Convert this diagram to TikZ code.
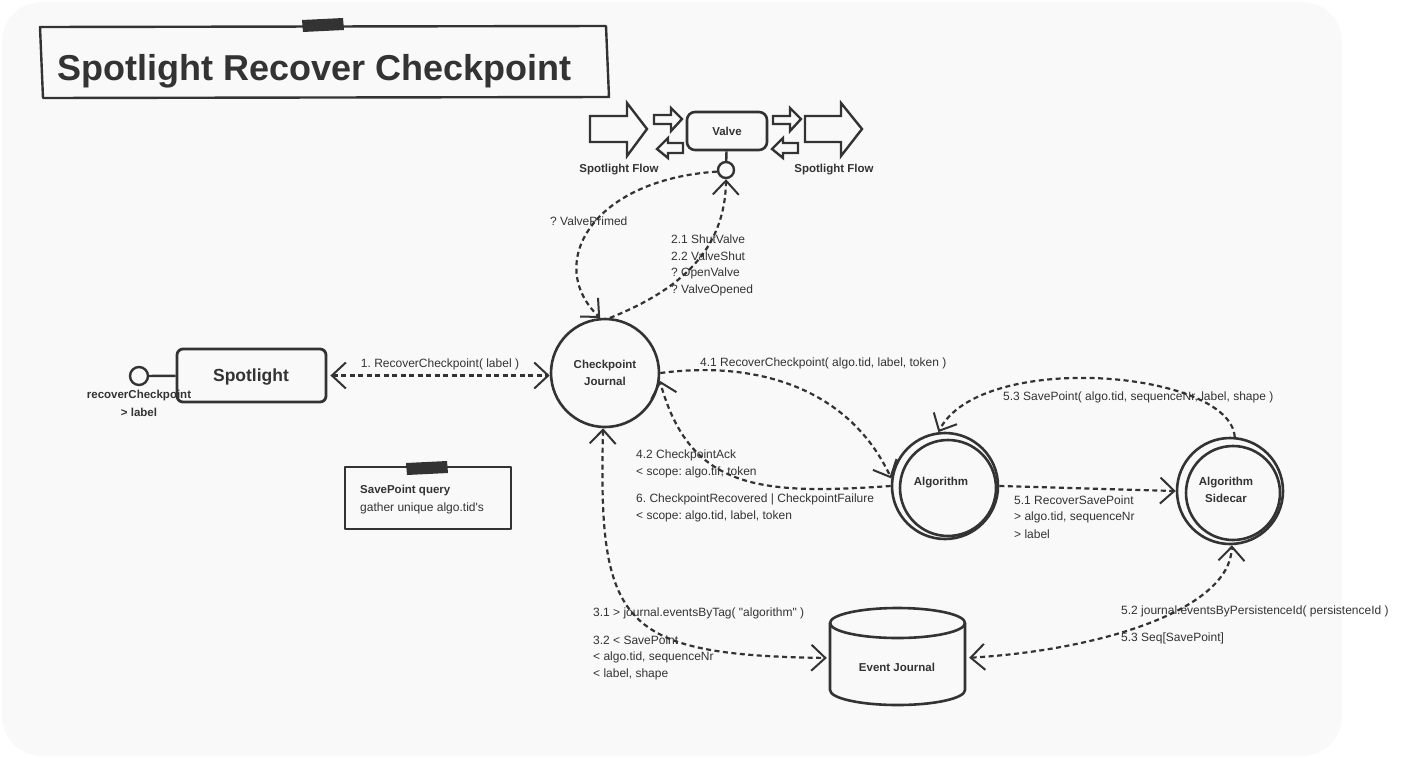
\documentclass[tikz,border=0pt]{standalone}
\usepackage{fontspec}
\setmainfont{Liberation Sans}
\newfontfamily\qf{Liberation Sans}
\usetikzlibrary{arrows.meta,calc}
\definecolor{ink}{HTML}{333333}
\definecolor{paper}{HTML}{F9F9F9}
\frenchspacing
\begin{document}
\begin{tikzpicture}[x=1pt,y=-1pt,
  vtip/.tip={Straight Barb[length=14pt,width=26pt,line width=2pt]},
  shp/.style={draw=ink, line width=2.6pt, line join=round},
  tf/.style={font=\fontsize{12}{14}\selectfont, text=ink},
  bf/.style={font=\fontsize{11.5}{17}\selectfont\bfseries, text=ink},
  lbl/.style={tf, anchor=west, inner sep=0pt},
  conn/.style={draw=ink, line width=2.2pt, dash pattern=on 5pt off 3.5pt},
  one/.style={conn, -vtip},
  two/.style={conn, vtip-vtip},
  circ/.style={shp, circle, inner sep=0pt, align=center, bf},
  lolli/.style={draw=ink, line width=2.4pt, circle, inner sep=0pt},
  blk/.style={draw=ink, line width=2.4pt, line join=miter}
]
\useasboundingbox (0,0) rectangle (1412,758);
\fill[paper, rounded corners=40pt] (2,2) rectangle (1342,756);

% title
\draw[shp, line width=2.4pt] (40,27) -- (606,26) -- (609,97) -- (43,98) -- cycle;
\fill[ink] (302,20) -- (343,18) -- (344,30) -- (303,32) -- cycle;
\node[anchor=base west, inner sep=0pt, text=ink, font=\fontsize{36}{40}\selectfont\bfseries] (title) at (57,80) {Spotlight Recover Checkpoint};

% valve and flow arrows
\node[shp, rounded corners=8pt, minimum width=80pt, minimum height=38pt, inner sep=0pt, bf] (valve) at (727,131) {Valve};
\node[lolli, minimum size=16pt] (vc) at (726,170) {};
\draw[shp, line width=2.4pt] (vc) -- (valve);
\draw[blk] (590,116) -- (627,116) -- (627,103) -- (647,129) -- (627,156) -- (627,142) -- (590,142) -- cycle;
\draw[blk] (654,115) -- (671,115) -- (671,108) -- (682,119) -- (671,131) -- (671,124) -- (654,124) -- cycle;
\draw[blk] (683,143) -- (668,143) -- (668,138) -- (657,149) -- (668,158) -- (668,153) -- (683,153) -- cycle;
\draw[blk] (773,116) -- (790,116) -- (790,108) -- (801,119) -- (790,131) -- (790,124) -- (773,124) -- cycle;
\draw[blk] (805,116) -- (841,116) -- (841,103) -- (862,129) -- (841,156) -- (841,142) -- (805,142) -- cycle;
\draw[blk] (798,143) -- (783,143) -- (783,138) -- (772,149) -- (783,158) -- (783,153) -- (798,153) -- cycle;
\node[bf, inner sep=0pt] (flowl) at (619,170) {Spotlight Flow};
\node[bf, inner sep=0pt] (flowr) at (834,170) {Spotlight Flow};

% spotlight
\node[shp, line width=2.8pt, rounded corners=6pt, minimum width=149pt, minimum height=53pt, inner sep=0pt] (sp) at (251.5,375.5) {};
\node[inner sep=0pt, text=ink, font=\fontsize{17.5}{20}\selectfont\bfseries] (spt) at (251,377) {Spotlight};
\node[lolli, minimum size=18pt] (spc) at (139,376) {};
\draw[shp, line width=2.4pt] (spc) -- (sp);
\node[bf, inner sep=0pt] (spl1) at (139,396) {recoverCheckpoint};
\node[bf, inner sep=0pt] (spl2) at (139,412) {> label};

% main nodes
\node[circ, minimum size=108pt] (cj) at (605,373) {Checkpoint\\Journal};
\node[circ, minimum size=106pt] (alg) at (945,486) {};
\draw[shp] (948,488) circle[radius=48];
\node[bf, inner sep=0pt] (algt) at (941,483) {Algorithm};
\node[circ, minimum size=106pt] (side) at (1230,491) {};
\draw[shp] (1233,493) circle[radius=47];
\node[bf, inner sep=0pt, align=center] (sidet) at (1226,490) {Algorithm\\Sidecar};

% event journal
\node[minimum width=135pt, minimum height=97pt, inner sep=0pt] (ej) at (897.5,658) {};
\draw[shp] (897.5,623) ellipse[x radius=67.5, y radius=15];
\draw[shp] (830,623) -- (830,690) arc[start angle=180, end angle=0, x radius=67.5, y radius=15] -- (965,623);
\node[bf, inner sep=0pt] (ejt) at (897,667) {Event Journal};

% note
\draw[shp, line width=2.4pt] (345,467) rectangle (511,529);
\fill[ink] (406,463) -- (447,461) -- (448,473) -- (407,475) -- cycle;
\node[lbl, font=\fontsize{11.5}{13}\selectfont\bfseries] (n1) at (360,491) {SavePoint query};
\node[lbl] (n2) at (360,508) {gather unique algo.tid{\qf'}s};

% connectors
\draw[two, shorten <=3pt] (sp.east) -- (cj.west |- sp.east);
\node[tf, inner sep=0pt] (l1) at (440,364) {1. RecoverCheckpoint( label )};

\draw[one] (vc.190) .. controls (590,180) and (545,265) .. (cj.95);
\node[lbl] (l2) at (550,221) {? ValvePrimed};
\draw[one] (cj.85) .. controls (680,290) and (725,250) .. (vc.south);
\node[lbl] (l21) at (671,239) {2.1 ShutValve};
\node[lbl] (l22) at (671,256) {2.2 ValveShut};
\node[lbl] (l23) at (671,273) {? OpenValve};
\node[lbl] (l24) at (671,290) {? ValveOpened};

\draw[one] (cj.east) .. controls (760,360) and (850,390) .. (alg.172);
\node[lbl] (l41) at (700,363) {4.1 RecoverCheckpoint( algo.tid, label, token )};
\draw[one] (alg.180) .. controls (760,495) and (690,490) .. (cj.-8);
\node[lbl] (l42) at (636,455) {4.2 CheckpointAck};
\node[lbl] (l42b) at (636,472) {< scope: algo.tif, token};
\node[lbl] (l6) at (636,499) {6. CheckpointRecovered | CheckpointFailure};
\node[lbl] (l6b) at (636,516) {< scope: algo.tid, label, token};

\draw[one] (alg.east) -- (side.west);
\node[lbl] (l51) at (1014,500) {5.1 RecoverSavePoint};
\node[lbl] (l51b) at (1014,517) {> algo.tid, sequenceNr};
\node[lbl] (l51c) at (1014,534) {> label};

\draw[one] (side.85) .. controls (1230,370) and (980,350) .. (alg.97);
\node[lbl] (l53) at (1003,397) {5.3 SavePoint( algo.tid, sequenceNr, label, shape )};

\draw[two, shorten >=3pt] (cj.-92) .. controls (598,625) and (620,655) .. (ej.west);
\node[lbl] (l31) at (593,613) {3.1 > journal.eventsByTag( {\qf"}algorithm{\qf"} )};
\node[lbl] (l32) at (593,640) {3.2 < SavePoint};
\node[lbl] (l32b) at (593,657) {< algo.tid, sequenceNr};
\node[lbl] (l32c) at (593,674) {< label, shape};

\draw[two, shorten <=4pt] (ej.east) .. controls (1100,650) and (1230,610) .. (side.-88);
\node[lbl] (l52) at (1121,611) {5.2 journal.eventsByPersistenceId( persistenceId )};
\node[lbl] (l53b) at (1121,638) {5.3 Seq[SavePoint]};
\end{tikzpicture}
\end{document}
